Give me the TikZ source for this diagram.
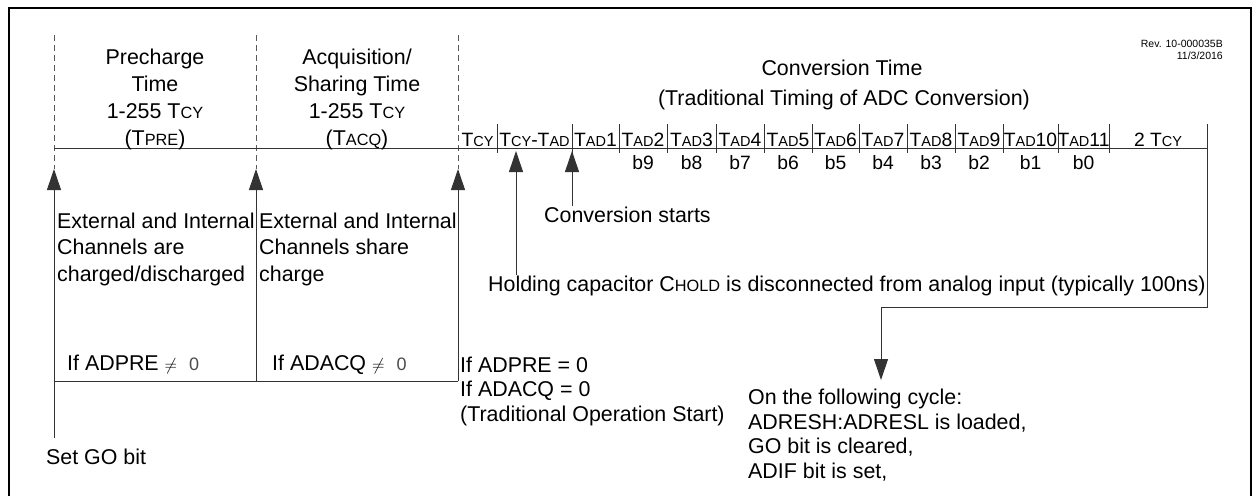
\documentclass[tikz,border=0pt]{standalone}
\usepackage{fontspec}
\setmainfont{Liberation Sans}
\usetikzlibrary{arrows.meta}
\newcommand\lcA[1]{{\fontsize{16.3}{16.3}\selectfont #1}}
\newcommand\lcB[1]{{\fontsize{14.5}{14.5}\selectfont #1}}
\newcommand\neqz{{\fontsize{17}{17}\selectfont$\neq$}\hspace{12pt}{\color{black!70}\fontsize{18}{18}\selectfont 0}}
\begin{document}
\begin{tikzpicture}[x=1pt,y=-1pt,
  txt/.style={inner sep=0pt, font=\fontsize{21.4}{25}\selectfont, anchor=base west},
  ctr/.style={inner sep=0pt, font=\fontsize{21.4}{25}\selectfont, anchor=base},
  tl/.style={inner sep=0pt, font=\fontsize{19.3}{19.3}\selectfont, anchor=base},
  small/.style={inner sep=0pt, font=\fontsize{10.5}{10.5}\selectfont, anchor=base east},
  ln/.style={draw=black!80, line width=1pt},
  dsh/.style={draw=black!65, line width=1pt, dash pattern=on 6pt off 4pt},
  arr/.style={ln, -{Triangle[width=14pt,length=21pt]}},
  tickln/.style={draw=black!80, line width=1pt},
]
\useasboundingbox (0,0) rectangle (1255,496);
% frame
\draw[line width=2pt] (9,496) -- (9,8) -- (1251,8) -- (1251,496);

% dashed boundaries
\coordinate (d1t) at (54,35);  \coordinate (d1b) at (54,169);
\coordinate (d2t) at (256,35); \coordinate (d2b) at (256,169);
\coordinate (d3t) at (458,35); \coordinate (d3b) at (458,169);
\draw[dsh] (d1t) -- (d1b);
\draw[dsh] (d2t) -- (d2b);
\draw[dsh] (d3t) -- (d3b);

% timeline
\coordinate (tl0) at (54,148);
\coordinate (tlE) at (1207,148);
\draw[ln] (tl0) -- (tlE);
\foreach \x in {497,572,619,667,716,764,812,859,907,955,1003,1058,1109}{
  \coordinate (tk\x a) at (\x,124);
  \coordinate (tk\x b) at (\x,153);
  \draw[tickln] (tk\x a) -- (tk\x b);
}

% top labels
\node[ctr] (p1) at (155,64) {Precharge};
\node[ctr] (p2) at (155,91) {Time};
\node[ctr] (p3) at (155,118) {1-255 T\lcA{CY}};
\node[ctr] (p4) at (155,145) {(T\lcA{PRE})};
\node[ctr] (a1) at (357,64) {Acquisition/};
\node[ctr] (a2) at (357,91) {Sharing Time};
\node[ctr] (a3) at (357,118) {1-255 T\lcA{CY}};
\node[ctr] (a4) at (357,145) {(T\lcA{ACQ})};
\node[ctr] (c1) at (842,75) {Conversion Time};
\node[ctr] (c2) at (844,105) {(Traditional Timing of ADC Conversion)};
\node[small] (rev1) at (1223,47) {Rev. 10-000035B};
\node[small] (rev2) at (1223,59) {11/3/2016};

% timeline labels
\node[tl] (t0) at (477.5,146) {T\lcB{CY}};
\node[tl] (t1) at (534.5,146) {T\lcB{CY}-T\lcB{AD}};
\node[tl] (t2) at (595.5,146) {T\lcB{AD}1};
\node[tl] (t3) at (643,146) {T\lcB{AD}2};
\node[tl] (t4) at (691.5,146) {T\lcB{AD}3};
\node[tl] (t5) at (740,146) {T\lcB{AD}4};
\node[tl] (t6) at (788,146) {T\lcB{AD}5};
\node[tl] (t7) at (835.5,146) {T\lcB{AD}6};
\node[tl] (t8) at (883,146) {T\lcB{AD}7};
\node[tl] (t9) at (931,146) {T\lcB{AD}8};
\node[tl] (t10) at (979,146) {T\lcB{AD}9};
\node[tl] (t11) at (1030.5,146) {T\lcB{AD}10};
\node[tl] (t12) at (1083.5,146) {T\lcB{AD}11};
\node[tl] (t13) at (1158,146) {2 T\lcB{CY}};
\node[tl] (b9) at (643,169) {b9};
\node[tl] (b8) at (691.5,169) {b8};
\node[tl] (b7) at (740,169) {b7};
\node[tl] (b6) at (788,169) {b6};
\node[tl] (b5) at (835.5,169) {b5};
\node[tl] (b4) at (883,169) {b4};
\node[tl] (b3) at (931,169) {b3};
\node[tl] (b2) at (979,169) {b2};
\node[tl] (b1) at (1030.5,169) {b1};
\node[tl] (b0) at (1083.5,169) {b0};

% lower left blocks
\node[txt] (e1) at (57,228) {External and Internal};
\node[txt] (e2) at (57,254.5) {Channels are};
\node[txt] (e3) at (57,281) {charged/discharged};
\node[txt] (f1) at (259,228) {External and Internal};
\node[txt] (f2) at (259,254.5) {Channels share};
\node[txt] (f3) at (259,281) {charge};
\node[txt] (g1) at (67,370) {If ADPRE \neqz};
\node[txt] (g2) at (272,370) {If ADACQ \neqz};
\node[txt] (sgo) at (46,464) {Set GO bit};

% bracket lines and arrows
\coordinate (s0) at (54,438);
\coordinate (s1) at (54,169);
\coordinate (m0) at (256,381);
\coordinate (m1) at (256,169);
\coordinate (r0) at (458,381);
\coordinate (r1) at (458,169);
\coordinate (bl) at (54,381);
\draw[arr] (s0) -- (s1);
\draw[arr] (m0) -- (m1);
\draw[arr] (r0) -- (r1);
\draw[ln] (bl) -- (r0);

% traditional start
\node[txt] (h1) at (460,372) {If ADPRE = 0};
\node[txt] (h2) at (460,396.5) {If ADACQ = 0};
\node[txt] (h3) at (460,421) {(Traditional Operation Start)};

% conversion arrows
\node[txt] (cs) at (544,222) {Conversion starts};
\node[txt] (hold) at (488,291) {Holding capacitor C\lcA{HOLD} is disconnected from analog input (typically 100ns)};
\coordinate (ha) at (516,151);
\coordinate (ca) at (572,151);
\draw[arr] (hold.north west -| ha) -- (ha);
\draw[arr] (cs.north west -| ca) -- (ca);

% end path
\coordinate (e0) at (1207,124);
\coordinate (e1c) at (1207,307);
\coordinate (e2c) at (881,307);
\coordinate (e3c) at (881,380);
\draw[arr] (e0) -- (e1c) -- (e2c) -- (e3c);
\node[txt] (o1) at (748,404) {On the following cycle:};
\node[txt] (o2) at (748,429) {ADRESH:ADRESL is loaded,};
\node[txt] (o3) at (748,453.5) {GO bit is cleared,};
\node[txt] (o4) at (748,478) {ADIF bit is set,};
\end{tikzpicture}
\end{document}
